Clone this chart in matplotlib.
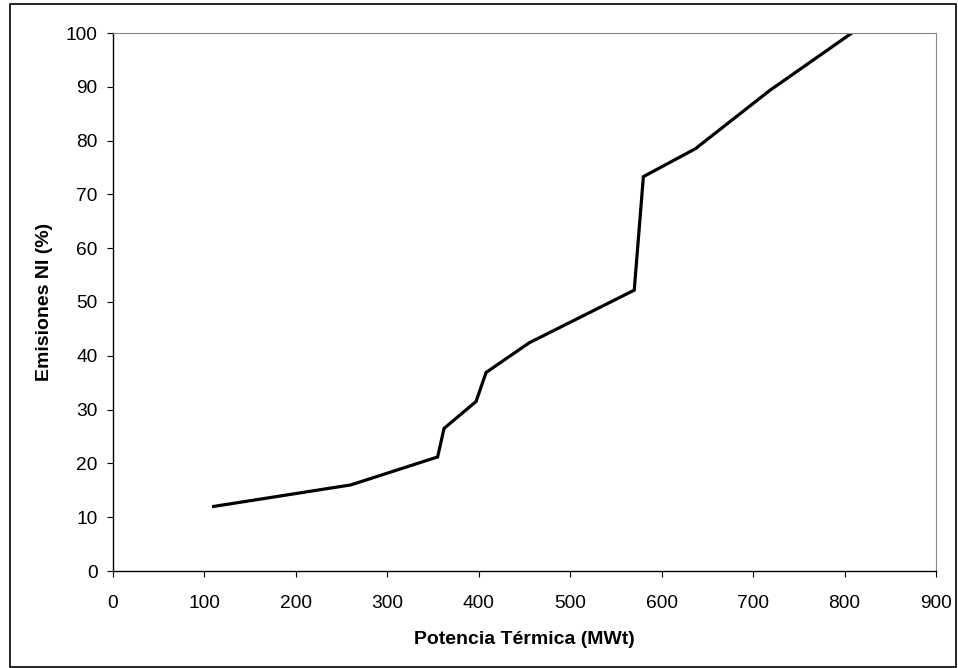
import matplotlib.pyplot as plt
from matplotlib.patches import Rectangle

plt.rcParams['font.family'] = ['Liberation Sans', 'DejaVu Sans']

# Potencia térmica (MWt) vs emisiones NI (%)
potencia = [110, 260, 355, 362, 397, 408, 455, 570, 580, 637, 718, 808]
emisiones = [12.0, 16.0, 21.2, 26.5, 31.5, 36.9, 42.4, 52.2, 73.3, 78.5, 89.3, 100.0]

x_ticks = [0, 100, 200, 300, 400, 500, 600, 700, 800, 900]
y_ticks = [0, 10, 20, 30, 40, 50, 60, 70, 80, 90, 100]

W, H = 958, 668
fig = plt.figure(figsize=(W / 100, H / 100), dpi=100)
ax = fig.add_axes([113 / W, 1 - 571 / H, (936 - 113) / W, (571 - 33) / H])

ax.plot(potencia, emisiones, color="black", linewidth=2.3, solid_joinstyle="miter")

ax.set_xlim(0, 900)
ax.set_ylim(0, 100)
ax.set_xticks(x_ticks)
ax.set_yticks(y_ticks)
ax.tick_params(direction="out", length=4, width=0.8, labelsize=13.8)
ax.tick_params(axis="x", pad=13)
ax.tick_params(axis="y", pad=7)

ax.set_xlabel("Potencia Térmica (MWt)", fontsize=14, fontweight="bold", labelpad=14)
ax.set_ylabel("Emisiones NI (%)", fontsize=14, fontweight="bold", labelpad=9)

for side in ["top", "right"]:
    ax.spines[side].set_color("#888888")
    ax.spines[side].set_linewidth(0.8)
for side in ["left", "bottom"]:
    ax.spines[side].set_color("black")
    ax.spines[side].set_linewidth(1.0)

# outer chart border
fig.patches.append(Rectangle((10 / W, 1 - 667 / H), (956 - 10) / W, (667 - 4) / H,
                             transform=fig.transFigure, fill=False,
                             edgecolor="black", linewidth=1.2))

fig.savefig("out.png", dpi=100)
